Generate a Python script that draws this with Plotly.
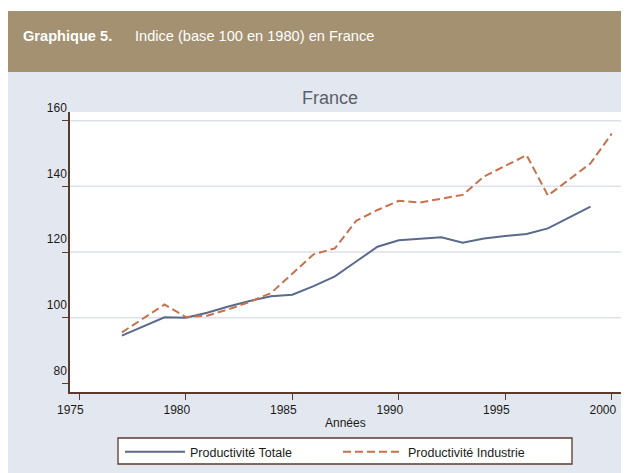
import plotly.graph_objects as go

years = list(range(1977, 2001))
prod_totale = [94.5, 97.3, 100.1, 100.0, 101.5, 103.4, 105.1, 106.5, 107.0, 109.6,
               112.6, 117.1, 121.6, 123.6, 124.0, 124.5, 122.8, 124.1, 124.9, 125.5,
               127.2, 130.4, 133.8, None]
prod_industrie = [95.5, 99.7, 104.0, 100.2, 100.6, 102.5, 104.8, 107.5, 113.4, 119.3,
                  121.1, 129.5, 132.8, 135.6, 135.1, 136.3, 137.4, 143.0, 146.2, 149.5,
                  137.2, 142.0, 147.0, 156.1]
x_ticks = [1975, 1980, 1985, 1990, 1995, 2000]
y_ticks = [80, 100, 120, 140, 160]
y_grid = [100, 120, 140, 160]
series_names = ["Productivité Totale", "Productivité Industrie"]
header_bold = "Graphique 5."
header_text = "Indice (base 100 en 1980) en France"
chart_title = "France"
x_title = "Années"

# page has an 8px body margin: figure drawn at (8, 8) in the window
OFF = 8
W, H = 629 - OFF, 473 - OFF
L, R, T, B = 62, 8, 104, 81
PW, PH = W - L - R, H - T - B


def fx(page_px):
    return (page_px - OFF - L) / PW


def fy(page_py):
    return (H - B - (page_py - OFF)) / PH


def cx(page_px):
    return (page_px - OFF) / W


def cy(page_py):
    return 1 - (page_py - OFF) / H


AXIS_COL = "#5b3b2e"
FONT = "Liberation Sans, Arial, sans-serif"

fig = go.Figure()
fig.add_trace(go.Scatter(x=years, y=prod_totale, mode="lines", name=series_names[0],
                         line=dict(color="#5a6a8a", width=2)))
fig.add_trace(go.Scatter(x=years, y=prod_industrie, mode="lines", name=series_names[1],
                         line=dict(color="#c8714f", width=2, dash="8px,4px")))

shapes = [
    dict(type="rect", xref="paper", yref="paper", x0=fx(0), x1=fx(629), y0=fy(11), y1=fy(0),
         fillcolor="white", line=dict(width=0), layer="below"),
    dict(type="rect", xref="paper", yref="paper", x0=fx(0), x1=fx(629), y0=fy(72), y1=fy(11),
         fillcolor="#a39172", line=dict(width=0), layer="below"),
    dict(type="rect", xref="paper", yref="paper", x0=fx(118), x1=fx(572), y0=fy(464), y1=fy(438),
         fillcolor="white", line=dict(width=1.3, color=AXIS_COL), layer="below"),
]
for g in y_grid:
    shapes.append(dict(type="line", xref="paper", yref="y", x0=0, x1=1, y0=g, y1=g,
                       line=dict(color="#dde1ea", width=1.5), layer="below"))

annotations = [
    dict(text="<b>" + header_bold + "</b>", xref="paper", yref="paper", x=fx(21), y=fy(36),
         xanchor="left", yanchor="middle", showarrow=False,
         font=dict(family=FONT, size=14.6, color="white")),
    dict(text=header_text, xref="paper", yref="paper", x=fx(133), y=fy(36),
         xanchor="left", yanchor="middle", showarrow=False,
         font=dict(family=FONT, size=14.6, color="white")),
    dict(text=chart_title, xref="paper", yref="paper", x=fx(330), y=fy(98.5),
         xanchor="center", yanchor="middle", showarrow=False,
         font=dict(family=FONT, size=18, color="#5a5f6b")),
    dict(text=x_title, xref="paper", yref="paper", x=fx(345), y=fy(423),
         xanchor="center", yanchor="middle", showarrow=False,
         font=dict(family=FONT, size=12, color="#1a1a1a")),
]

fig.update_layout(
    width=W, height=H,
    margin=dict(l=L, r=R, t=T, b=B, pad=0, autoexpand=False),
    paper_bgcolor="#e3e7ef",
    plot_bgcolor="white",
    font=dict(family=FONT, size=12, color="#1a1a1a"),
    shapes=shapes,
    annotations=annotations,
    showlegend=True,
    legend=dict(orientation="h", xref="container", yref="container",
                x=cx(120), y=cy(452), xanchor="left", yanchor="middle",
                bgcolor="rgba(0,0,0,0)", borderwidth=0, itemwidth=60,
                entrywidth=143, entrywidthmode="pixels",
                font=dict(family=FONT, size=12.5, color="#1a1a1a")),
    xaxis=dict(range=[1974.563, 2000.432], tickvals=x_ticks, ticktext=[str(v) for v in x_ticks],
               showgrid=False, zeroline=False, showline=True, linecolor=AXIS_COL, linewidth=1.5,
               ticks="outside", ticklen=6, tickcolor=AXIS_COL, tickwidth=1.3,
               ticklabelstandoff=0, ticklabelshift=-9,
               tickfont=dict(size=12, color="#1a1a1a")),
    yaxis=dict(range=[77.35, 162.65], tickvals=y_ticks, ticktext=[str(v) for v in y_ticks],
               showgrid=False, zeroline=False,
               showline=True, linecolor=AXIS_COL, linewidth=1.5,
               ticks="outside", ticklen=6, tickcolor=AXIS_COL, tickwidth=1.3,
               ticklabelshift=-13, ticklabelstandoff=-7,
               tickfont=dict(size=12, color="#1a1a1a")),
)

fig.write_html("out.html")
